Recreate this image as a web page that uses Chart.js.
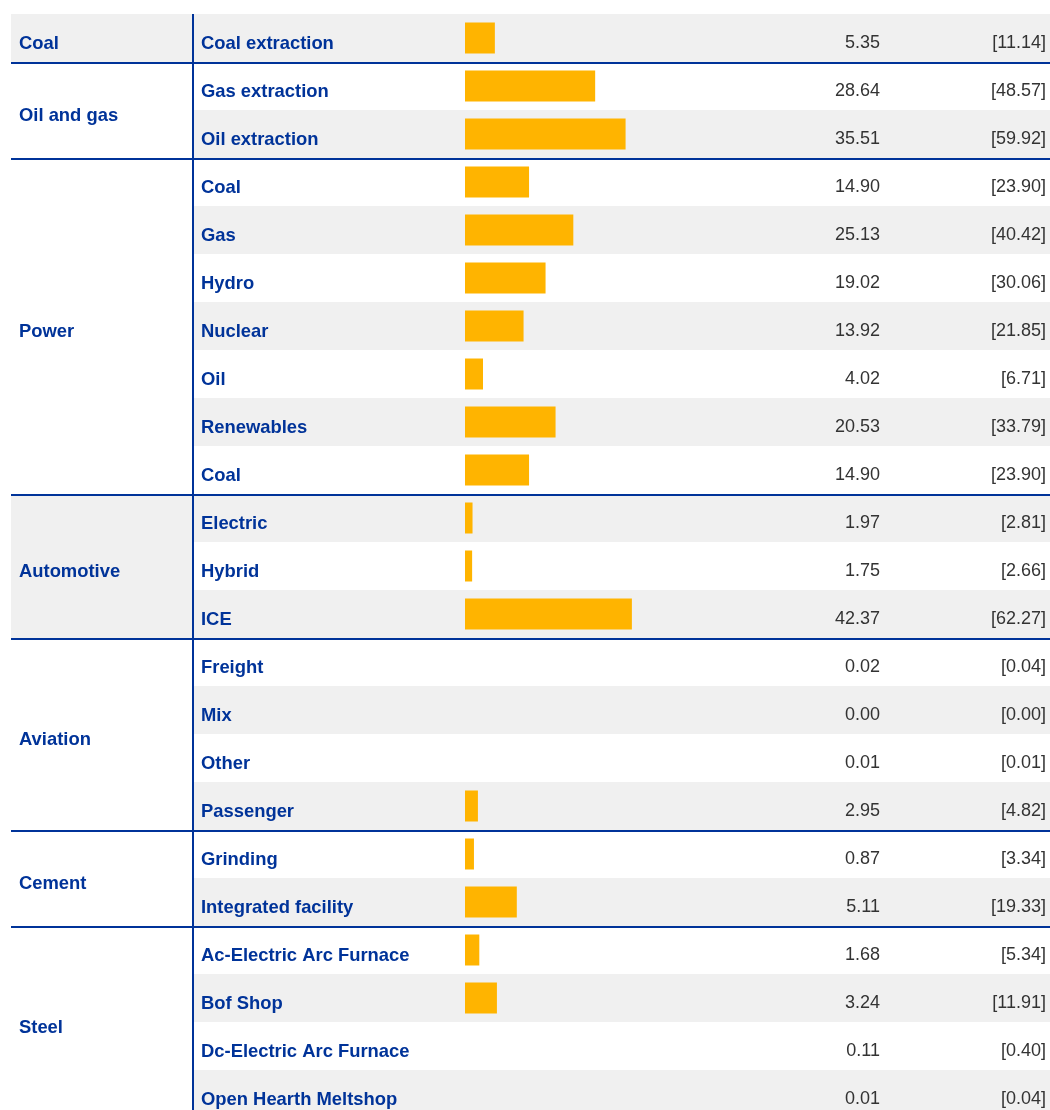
<!DOCTYPE html>
<html>
<head>
<meta charset="utf-8">
<script src="https://cdn.jsdelivr.net/npm/chart.js@4"></script>
<style>
  html, body { margin: 0; padding: 0; background: #fff; overflow: hidden; }
  #wrap { width: 1050px; height: 1110px; overflow: hidden; }
</style>
</head>
<body>
<div id="wrap"><canvas id="chart" width="1050" height="1120"></canvas></div>
<script>
// groups and how many sub-rows each one spans
const groups = ['Coal', 'Oil and gas', 'Power', 'Automotive', 'Aviation', 'Cement', 'Steel'];
const groupSizes = [1, 2, 7, 3, 4, 2, 4];

const subcategories = [
    'Coal extraction',
    'Gas extraction', 'Oil extraction',
    'Coal', 'Gas', 'Hydro', 'Nuclear', 'Oil', 'Renewables', 'Coal',
    'Electric', 'Hybrid', 'ICE',
    'Freight', 'Mix', 'Other', 'Passenger',
    'Grinding', 'Integrated facility',
    'Ac-Electric Arc Furnace', 'Bof Shop', 'Dc-Electric Arc Furnace', 'Open Hearth Meltshop'
];

const values = [
    5.35,
    28.64, 35.51,
    14.90, 25.13, 19.02, 13.92, 4.02, 20.53, 14.90,
    1.97, 1.75, 42.37,
    0.02, 0.00, 0.01, 2.95,
    0.87, 5.11,
    1.68, 3.24, 0.11, 0.01
];

// bracketed figures, the bars are drawn from these
const shares = [
    11.14,
    48.57, 59.92,
    23.90, 40.42, 30.06, 21.85, 6.71, 33.79, 23.90,
    2.81, 2.66, 62.27,
    0.04, 0.00, 0.01, 4.82,
    3.34, 19.33,
    5.34, 11.91, 0.40, 0.04
];

const BLUE = '#003399';
const STRIPE = '#f0f0f0';
const FONT = '"Liberation Sans", Arial, sans-serif';

const tablePlugin = {
    id: 'table',
    beforeDatasetsDraw(chart) {
        const ctx = chart.ctx;
        const y = chart.scales.y;
        const rowH = y.getPixelForValue(1) - y.getPixelForValue(0);
        ctx.save();
        // row stripes
        subcategories.forEach((s, i) => {
            if (i % 2 === 0) {
                const top = y.getPixelForValue(i) - rowH / 2;
                ctx.fillStyle = STRIPE;
                ctx.fillRect(194, top, 1050 - 194, rowH);
            }
        });
        // group cells take the stripe of their first row
        let start = 0;
        groupSizes.forEach((n) => {
            if (start % 2 === 0) {
                const top = y.getPixelForValue(start) - rowH / 2;
                ctx.fillStyle = STRIPE;
                ctx.fillRect(11, top, 192 - 11, rowH * n);
            }
            start += n;
        });
        ctx.restore();
    },
    afterDatasetsDraw(chart) {
        const ctx = chart.ctx;
        const y = chart.scales.y;
        const rowH = y.getPixelForValue(1) - y.getPixelForValue(0);
        const top0 = y.getPixelForValue(0) - rowH / 2;
        ctx.save();

        // separators between groups
        ctx.fillStyle = BLUE;
        let start = 0;
        groupSizes.forEach((n, g) => {
            start += n;
            if (g < groupSizes.length - 1) {
                const ly = y.getPixelForValue(start) - rowH / 2;
                ctx.fillRect(11, ly, 1050 - 11, 2);
            }
        });
        ctx.fillRect(192, top0, 2, chart.height - top0);

        // group labels
        ctx.font = 'bold 18.4px ' + FONT;
        ctx.textBaseline = 'alphabetic';
        ctx.textAlign = 'left';
        ctx.fillStyle = BLUE;
        start = 0;
        groups.forEach((name, g) => {
            const n = groupSizes[g];
            const mid = (y.getPixelForValue(start) + y.getPixelForValue(start + n - 1)) / 2;
            ctx.fillText(name, 19, mid + 11);
            start += n;
        });

        // sub-row labels
        subcategories.forEach((s, i) => {
            ctx.fillText(s, 201, y.getPixelForValue(i) + 11);
        });

        // numbers
        ctx.font = '18px ' + FONT;
        ctx.fillStyle = '#333333';
        ctx.textAlign = 'right';
        values.forEach((v, i) => {
            const cy = y.getPixelForValue(i) + 10;
            ctx.fillText(v.toFixed(2), 880, cy);
            ctx.fillText('[' + shares[i].toFixed(2) + ']', 1046, cy);
        });
        ctx.restore();
    }
};

new Chart(document.getElementById('chart'), {
    type: 'bar',
    data: {
        labels: subcategories,
        datasets: [{
            data: shares,
            // bars thinner than a pixel or so are not shown in the original
            backgroundColor: (c) => (c.raw < 1 ? 'rgba(0,0,0,0)' : '#ffb400'),
            borderWidth: 0,
            inflateAmount: 0,
            barThickness: 31
        }]
    },
    options: {
        indexAxis: 'y',
        responsive: false,
        animation: false,
        layout: { padding: { left: 465, right: 317, top: 14, bottom: 2 } },
        plugins: {
            legend: { display: false },
            tooltip: { enabled: false }
        },
        scales: {
            x: { display: false, min: 0, max: 100 },
            y: { display: false }
        }
    },
    plugins: [tablePlugin]
});
</script>
</body>
</html>
